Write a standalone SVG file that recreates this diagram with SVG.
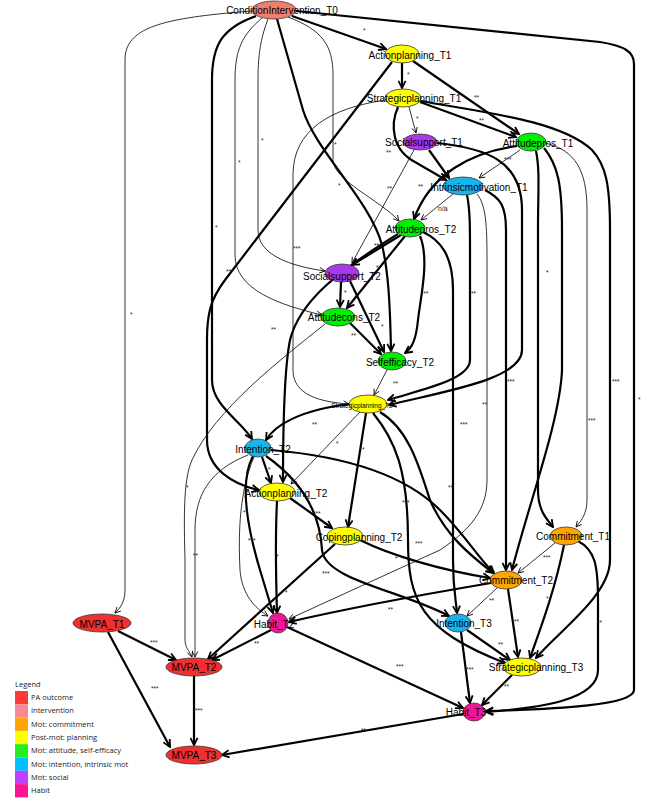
<svg xmlns="http://www.w3.org/2000/svg" width="666" height="799" viewBox="0 0 666 799">
<defs>
<marker id="ak" viewBox="0 0 10 10" refX="9" refY="5" markerWidth="9" markerHeight="9" markerUnits="userSpaceOnUse" orient="auto"><path d="M1,1 L9,5 L1,9" fill="none" stroke="#000" stroke-width="2"/></marker>
<marker id="an" viewBox="0 0 10 10" refX="9" refY="5" markerWidth="7" markerHeight="7" markerUnits="userSpaceOnUse" orient="auto"><path d="M1,1 L9,5 L1,9" fill="none" stroke="#000" stroke-width="1.2"/></marker>
</defs>
<style>
.k{fill:none;stroke:#000;stroke-width:2.2;marker-end:url(#ak)}
.n{fill:none;stroke:#000;stroke-width:0.8;marker-end:url(#an)}
.el{font-family:"Liberation Sans",Arial,sans-serif;font-size:6.5px;fill:#222}
.nd ellipse{stroke:#333;stroke-width:0.8}
.nd text{font-family:"Liberation Sans",Arial,sans-serif;font-size:10px;fill:#000;text-anchor:middle;dominant-baseline:central}
.lg{font-family:"Open Sans","Liberation Sans",sans-serif;font-size:7.5px;fill:#222}
</style>
<rect width="666" height="799" fill="#fff"/>
<g id="connectors">
<path class="n" d="M252,11 C160,18 125,28 125,60 L125,590 C125,604 118,610 115,613"/>
<path class="k" d="M296,11 L600,42 C625,46 634,52 634,64 L634,690 C634,705 560,709 486,711"/>
<path class="k" d="M292,16 L386,49"/>
<path class="k" d="M256,16 C222,28 212,45 212,80 L212,380 C212,405 240,420 252,439"/>
<path class="n" d="M262,18 C242,35 235,50 235,80 L235,255 C235,290 280,305 322,315"/>
<path class="n" d="M268,19 C262,35 258,50 258,80 L258,230 C258,255 290,266 325,271"/>
<path class="n" d="M288,17 C322,30 333,45 333,75 L333,160 C333,180 380,200 399,221"/>
<path class="k" d="M277,19 L303,110 C315,150 370,200 382,245 C388,270 390,300 391,351"/>
<path class="k" d="M402,63 L402,88"/>
<path class="k" d="M413,61 L519,134"/>
<path class="k" d="M392,62 L225,280 C210,300 207,315 207,340 L207,440 C207,470 235,485 259,490"/>
<path class="k" d="M420,102 L516,137"/>
<path class="n" d="M409,107 L416,133"/>
<path class="k" d="M398,107 C390,125 392,150 415,162 L446,180"/>
<path class="n" d="M386,100 C330,108 293,130 293,175 L293,370 C293,395 320,402 349,404"/>
<path class="k" d="M421,101 C480,112 560,120 592,150 C606,165 610,185 610,230 L610,560 C610,595 560,630 536,658"/>
<path class="k" d="M429,150 L449,178"/>
<path class="n" d="M414,150 L352,263"/>
<path class="k" d="M437,143 C485,148 522,160 522,210 L522,350 C522,380 440,392 389,405"/>
<path class="n" d="M520,150 L479,178"/>
<path class="k" d="M517,146 C470,152 430,175 414,219"/>
<path class="k" d="M536,151 C540,170 538,190 538,230 L538,490 C538,512 548,520 553,527"/>
<path class="k" d="M544,148 C558,165 562,185 562,230 L562,370 C560,420 530,500 512,570"/>
<path class="n" d="M545,143 C575,150 587,170 587,210 L587,500 C587,515 580,522 576,527"/>
<path class="n" d="M453,194 L421,220"/>
<path class="k" d="M467,195 C470,210 470,225 470,250 L470,360 C470,380 420,390 388,400"/>
<path class="n" d="M477,194 C486,205 487,225 487,260 L487,480 C487,510 470,530 440,550 L289,619"/>
<path class="k" d="M485,190 C500,198 506,205 506,230 L506,570"/>
<path class="k" d="M401,235 L352,265"/>
<path class="k" d="M405,236 L347,308"/>
<path class="k" d="M420,236 C430,260 420,300 418,320 C416,340 412,348 405,353"/>
<path class="k" d="M423,232 C440,240 453,255 453,290 L453,560 C453,590 456,600 457,613"/>
<path class="k" d="M398,234 C340,270 300,300 290,340 C284,370 283,420 283,482"/>
<path class="k" d="M341,282 L340,307"/>
<path class="k" d="M350,281 L384,352"/>
<path class="k" d="M350,323 L381,354"/>
<path class="n" d="M325,324 C280,360 215,410 192,460 C183,480 184,520 185,560 L185,640 C185,648 190,652 192,657"/>
<path class="n" d="M387,370 L374,395"/>
<path class="k" d="M350,404 C300,410 275,425 266,440"/>
<path class="n" d="M360,412 L291,484"/>
<path class="k" d="M366,413 L348,527"/>
<path class="k" d="M380,412 C410,430 420,470 430,500 C445,535 470,555 493,573"/>
<path class="k" d="M373,413 C395,440 408,470 408,540 C408,600 420,630 505,663"/>
<path class="k" d="M262,457 L271,483"/>
<path class="k" d="M271,450 C330,455 400,470 440,510 C465,535 480,560 494,573"/>
<path class="k" d="M266,456 C300,480 320,510 322,550 C325,580 400,590 449,616"/>
<path class="k" d="M253,456 C240,480 245,520 260,570 L273,613"/>
<path class="n" d="M248,455 C210,470 195,495 195,530 L195,640 C195,648 195,652 195,657"/>
<path class="n" d="M254,457 C240,490 238,530 240,570 C242,595 255,608 268,616"/>
<path class="k" d="M290,498 L332,528"/>
<path class="k" d="M277,501 C275,540 276,580 277,613"/>
<path class="k" d="M360,540 C390,555 440,570 490,578"/>
<path class="k" d="M335,544 L208,659"/>
<path class="n" d="M555,543 L518,573"/>
<path class="k" d="M564,545 C555,590 540,630 530,658"/>
<path class="k" d="M578,541 C595,550 598,565 598,600 L598,670 C598,700 540,708 486,712"/>
<path class="n" d="M497,588 L467,616"/>
<path class="k" d="M508,589 L518,657"/>
<path class="k" d="M491,583 C420,595 340,610 289,622"/>
<path class="k" d="M467,630 L510,660"/>
<path class="k" d="M461,632 L470,703"/>
<path class="k" d="M512,675 L482,705"/>
<path class="k" d="M271,630 L212,660"/>
<path class="k" d="M287,627 L463,708"/>
<path class="k" d="M118,631 L176,660"/>
<path class="k" d="M108,632 L170,747"/>
<path class="k" d="M194,676 L194,745"/>
<path class="k" d="M463,714 L222,755"/>
<g class="el">
<text x="130" y="317">*</text><text x="638" y="402">*</text><text x="363" y="33">*</text>
<text x="215" y="230">*</text><text x="238" y="165">*</text><text x="261" y="143">*</text>
<text x="334" y="147">*</text><text x="338" y="188">*</text><text x="407" y="77">*</text>
<text x="474" y="100">**</text><text x="479" y="123">**</text><text x="416" y="121">*</text>
<text x="226" y="274">***</text><text x="386" y="155">**</text><text x="293" y="251">***</text>
<text x="612" y="384">***</text><text x="387" y="191">**</text><text x="504" y="162">***</text>
<text x="418" y="189">**</text><text x="546" y="275">*</text><text x="588" y="423">***</text>
<text x="438" y="211" font-size="7">n/a</text><text x="471" y="296">**</text><text x="482" y="407">**</text>
<text x="507" y="384">***</text><text x="374" y="248">**</text><text x="376" y="270">*</text>
<text x="421" y="296">***</text><text x="460" y="427">***</text><text x="271" y="332">**</text>
<text x="344" y="295">*</text><text x="381" y="329">*</text><text x="351" y="338">**</text>
<text x="186" y="490">*</text><text x="393" y="386">**</text><text x="312" y="427">**</text>
<text x="336" y="446">*</text><text x="362" y="452">*</text><text x="415" y="546">***</text>
<text x="402" y="505">***</text><text x="268" y="472">*</text><text x="448" y="490">**</text>
<text x="322" y="576">***</text><text x="248" y="543">***</text><text x="193" y="558">**</text>
<text x="243" y="515">**</text><text x="313" y="516">***</text><text x="276" y="559">*</text>
<text x="395" y="561">*</text><text x="285" y="595">*</text><text x="543" y="560">***</text>
<text x="546" y="601">*</text><text x="597" y="625">**</text><text x="489" y="603">**</text>
<text x="514" y="624">**</text><text x="388" y="612">**</text><text x="498" y="647">**</text>
<text x="466" y="672">***</text><text x="504" y="689">**</text><text x="254" y="646">**</text>
<text x="396" y="669">***</text><text x="150" y="645">***</text><text x="151" y="691">***</text>
<text x="195" y="713">***</text><text x="361" y="733">**</text>
</g>
</g>
<g id="ConditionIntervention_T0" class="nd"><ellipse cx="274" cy="10" rx="22" ry="9" fill="#F47C6C"/><text x="282" y="10">ConditionIntervention_T0</text></g>
<g id="Actionplanning_T1" class="nd"><ellipse cx="402" cy="54" rx="17" ry="9" fill="#FFFF00"/><text x="410" y="55">Actionplanning_T1</text></g>
<g id="Strategicplanning_T1" class="nd"><ellipse cx="403" cy="98" rx="18" ry="9" fill="#FFFF00"/><text x="414" y="98">Strategicplanning_T1</text></g>
<g id="Socialsupport_T1" class="nd"><ellipse cx="420" cy="142" rx="17" ry="8" fill="#A838E8"/><text x="424" y="142">Socialsupport_T1</text></g>
<g id="Attitudepros_T1" class="nd"><ellipse cx="531" cy="142" rx="15" ry="9" fill="#00EE00"/><text x="538" y="143">Attitudepros_T1</text></g>
<g id="Intrinsicmotivation_T1" class="nd"><ellipse cx="463" cy="186" rx="20" ry="9" fill="#1AB4EC"/><text x="479" y="187">Intrinsicmotivation_T1</text></g>
<g id="Attitudepros_T2" class="nd"><ellipse cx="410" cy="228" rx="15" ry="9" fill="#00EE00"/><text x="421" y="229">Attitudepros_T2</text></g>
<g id="Socialsupport_T2" class="nd"><ellipse cx="342" cy="273" rx="17" ry="9" fill="#A838E8"/><text x="342" y="276">Socialsupport_T2</text></g>
<g id="Attitudecons_T2" class="nd"><ellipse cx="338" cy="317" rx="17" ry="9" fill="#00EE00"/><text x="344" y="317">Attitudecons_T2</text></g>
<g id="Selfefficacy_T2" class="nd"><ellipse cx="392" cy="361" rx="14" ry="9" fill="#00EE00"/><text x="400" y="362">Selfefficacy_T2</text></g>
<g id="Strategicplanning_T2" class="nd"><ellipse cx="368" cy="404" rx="19" ry="9" fill="#FFFF00"/><text x="362" y="405" style="font-size:6.5px">Strategicplanning_T2</text></g>
<g id="Intention_T2" class="nd"><ellipse cx="258" cy="448" rx="13" ry="9" fill="#1AB4EC"/><text x="263" y="449">Intention_T2</text></g>
<g id="Actionplanning_T2" class="nd"><ellipse cx="277" cy="492" rx="18" ry="9" fill="#FFFF00"/><text x="286" y="493">Actionplanning_T2</text></g>
<g id="Copingplanning_T2" class="nd"><ellipse cx="345" cy="536" rx="18" ry="9" fill="#FFFF00"/><text x="359" y="537">Copingplanning_T2</text></g>
<g id="Commitment_T1" class="nd"><ellipse cx="566" cy="536" rx="16" ry="9" fill="#FFA500"/><text x="573" y="536">Commitment_T1</text></g>
<g id="Commitment_T2" class="nd"><ellipse cx="506" cy="580" rx="16" ry="9" fill="#FFA500"/><text x="516" y="580">Commitment_T2</text></g>
<g id="MVPA_T1" class="nd"><ellipse cx="102" cy="623" rx="29" ry="9" fill="#F03030"/><text x="102" y="624">MVPA_T1</text></g>
<g id="Habit_T2" class="nd"><ellipse cx="278" cy="623" rx="10" ry="10" fill="#F0169A"/><text x="274" y="624">Habit_T2</text></g>
<g id="Intention_T3" class="nd"><ellipse cx="458" cy="623" rx="13" ry="9" fill="#1AB4EC"/><text x="464" y="623">Intention_T3</text></g>
<g id="Strategicplanning_T3" class="nd"><ellipse cx="522" cy="667" rx="19" ry="9" fill="#FFFF00"/><text x="536" y="667">Strategicplanning_T3</text></g>
<g id="MVPA_T2" class="nd"><ellipse cx="194" cy="667" rx="28" ry="9" fill="#F03030"/><text x="194" y="667">MVPA_T2</text></g>
<g id="Habit_T3" class="nd"><ellipse cx="474" cy="712" rx="11" ry="9" fill="#F0169A"/><text x="466" y="712">Habit_T3</text></g>
<g id="MVPA_T3" class="nd"><ellipse cx="194" cy="755" rx="28" ry="9" fill="#F03030"/><text x="194" y="755">MVPA_T3</text></g>
<g id="legend">
<text class="lg" x="15" y="687">Legend</text>
<rect x="15" y="691" width="13" height="13.3" fill="#FF3838"/>
<rect x="15" y="704.3" width="13" height="13.3" fill="#F98895"/>
<rect x="15" y="717.6" width="13" height="13.3" fill="#FFA500"/>
<rect x="15" y="730.9" width="13" height="13.3" fill="#FFFF00"/>
<rect x="15" y="744.2" width="13" height="13.3" fill="#22EE22"/>
<rect x="15" y="757.5" width="13" height="13.3" fill="#00C0FF"/>
<rect x="15" y="770.8" width="13" height="13.3" fill="#C040FF"/>
<rect x="15" y="784.1" width="13" height="13.3" fill="#FF1493"/>
<text class="lg" x="31" y="700">PA outcome</text>
<text class="lg" x="31" y="713.3">Intervention</text>
<text class="lg" x="31" y="726.6">Mot: commitment</text>
<text class="lg" x="31" y="739.9">Post-mot: planning</text>
<text class="lg" x="31" y="753.2">Mot: attitude, self-efficacy</text>
<text class="lg" x="31" y="766.5">Mot: intention, intrinsic mot</text>
<text class="lg" x="31" y="779.8">Mot: social</text>
<text class="lg" x="31" y="793.1">Habit</text>
</g>
</svg>
